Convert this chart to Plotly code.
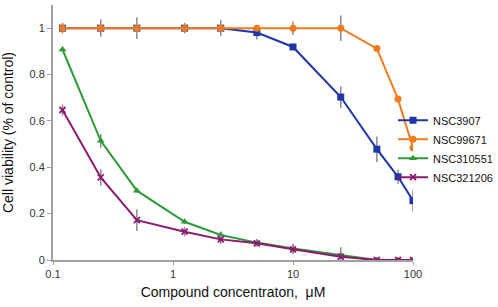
import plotly.graph_objects as go

conc = [0.12, 0.25, 0.5, 1.25, 2.5, 5, 10, 25, 50, 75, 100]

nsc3907 = [1.0, 1.0, 1.0, 1.0, 1.0, 0.981, 0.919, 0.703, 0.478, 0.359, 0.256]
nsc3907_err = [0.01, 0.01, 0.01, 0.01, 0.01, 0.03, 0.008, 0.047, 0.055, 0.03, 0.047]

nsc99671 = [1.0, 1.0, 1.0, 1.0, 1.0, 1.0, 1.0, 1.0, 0.912, 0.694, 0.484]
nsc99671_err = [0.023, 0.037, 0.047, 0.023, 0.034, 0.008, 0.029, 0.055, 0.005, 0.005, 0.005]

nsc310551 = [0.908, 0.514, 0.299, 0.165, 0.108, 0.075, 0.05, 0.02, 0.0, 0.0, 0.0]
nsc310551_err = [0.01, 0.03, 0.008, 0.01, 0.015, 0.015, 0.02, 0.035, 0.004, 0.004, 0.004]

nsc321206 = [0.647, 0.356, 0.172, 0.122, 0.089, 0.072, 0.046, 0.014, 0.0, 0.0, 0.0]
nsc321206_err = [0.024, 0.036, 0.047, 0.02, 0.02, 0.015, 0.02, 0.008, 0.004, 0.004, 0.004]

series = [
    ("NSC3907", nsc3907, nsc3907_err, "#1f35a8", "square", 7),
    ("NSC99671", nsc99671, nsc99671_err, "#f07b1f", "circle", 7),
    ("NSC310551", nsc310551, nsc310551_err, "#2e9a38", "triangle-up", 7),
    ("NSC321206", nsc321206, nsc321206_err, "#8c1a70", "x-thin", 6),
]

fig = go.Figure()
for name, vals, errs, col, sym, sz in series:
    marker = dict(symbol=sym, size=sz, color=col)
    if sym == "x-thin":
        marker["line"] = dict(color=col, width=1.8)
    fig.add_trace(go.Scatter(
        x=conc, y=vals, name=name, mode="lines+markers",
        line=dict(color=col, width=2),
        marker=marker,
        error_y=dict(type="data", array=errs, visible=True, color="#8a8a8a",
                     thickness=1.5, width=0),
    ))

W, H = 498, 307
ML, MR = 53, 0
fig.update_layout(
    width=W, height=H,
    margin=dict(l=ML, r=MR, t=5, b=47, autoexpand=False),
    paper_bgcolor="white", plot_bgcolor="white",
    font=dict(family="Liberation Sans, Arial, sans-serif", size=11, color="#222"),
    legend=dict(x=1.0, y=0.605, xanchor="right", yanchor="top",
                font=dict(size=11, color="#111"), tracegroupgap=0,
                itemwidth=30, bgcolor="rgba(0,0,0,0)"),
    xaxis=dict(type="log", range=[-1, 2.0], tickvals=[0.1, 1, 10, 100],
               ticktext=["0.1", "1", "10", "100"],
               domain=[0, (413 - ML) / (W - ML - MR)],
               automargin=False,
               showline=True, linecolor="#a0a0a0", linewidth=2,
               ticks="outside", ticklen=3, tickcolor="#a0a0a0",
               showgrid=False, zeroline=False,
               tickfont=dict(size=11, color="#333"),
               title=dict(text="Compound concentraton,  μM", font=dict(size=14, color="#111"), standoff=8)),
    yaxis=dict(range=[0, 1.1], tickvals=[0, 0.2, 0.4, 0.6, 0.8, 1],
               ticktext=["0", "0.2", "0.4", "0.6", "0.8", "1"],
               automargin=False,
               showline=True, linecolor="#a0a0a0", linewidth=2,
               ticks="outside", ticklen=4, tickcolor="#a0a0a0",
               showgrid=False, zeroline=False,
               tickfont=dict(size=11, color="#333"),
               title=dict(text="Cell viability (% of control)", font=dict(size=14, color="#111"), standoff=14)),
)

fig.write_html("out.html", config={"displayModeBar": False},
               post_script="document.body.style.margin='0';document.body.style.overflow='hidden';")
